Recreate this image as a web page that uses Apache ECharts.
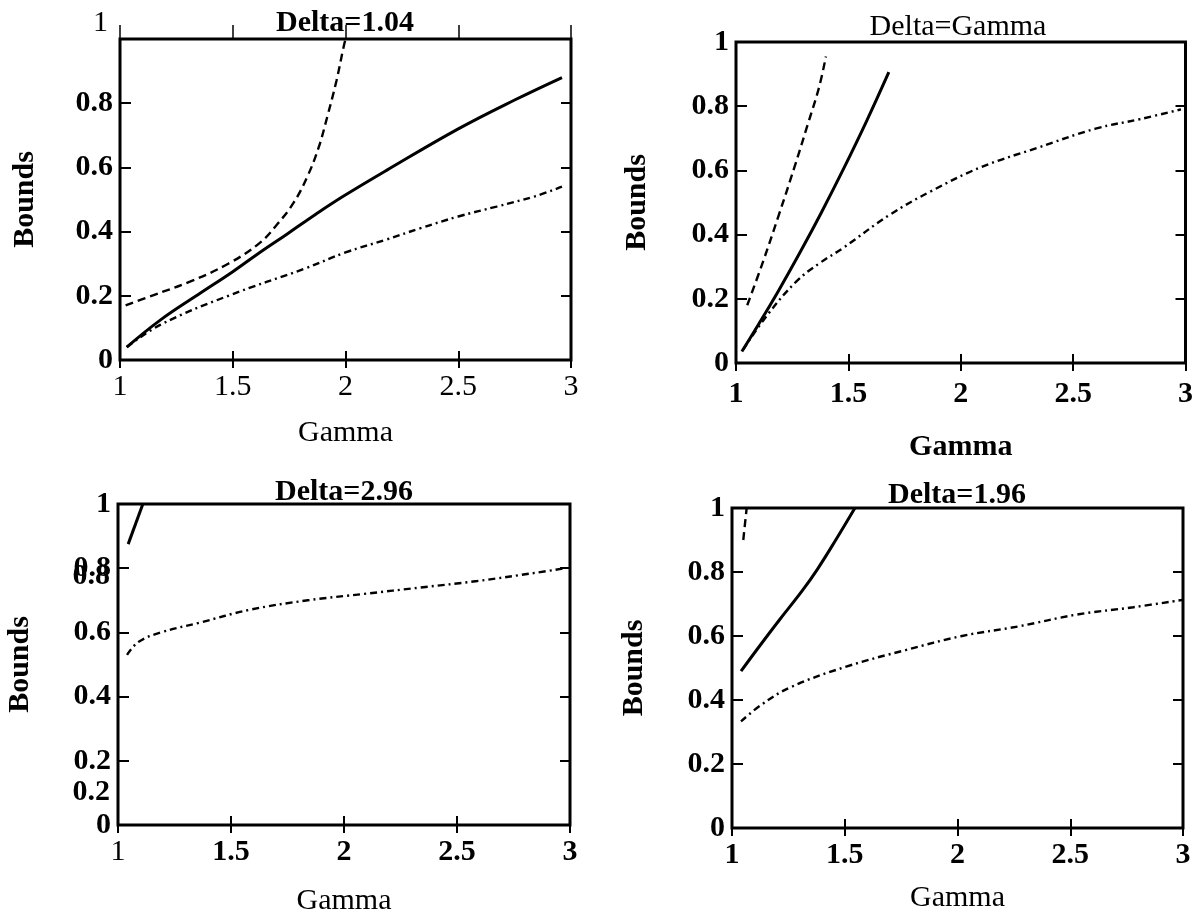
<!DOCTYPE html>
<html>
<head>
<meta charset="utf-8">
<script src="https://cdn.jsdelivr.net/npm/echarts@6/dist/echarts.min.js"></script>
<style>
html, body { margin: 0; padding: 0; background: #fff; }
#chart { width: 1196px; height: 917px; }
</style>
</head>
<body>
<div id="chart"></div>
<script>
// axis ticks shared by all four panels
const gammaTicks = [1, 1.5, 2, 2.5, 3];
const boundTicks = [0, 0.2, 0.4, 0.6, 0.8, 1];
const panelTitles = ['Delta=1.04', 'Delta=Gamma', 'Delta=2.96', 'Delta=1.96'];

// [gamma, bound]
const p1Dashed = [[1.025, 0.17], [1.14, 0.2], [1.31, 0.244], [1.48, 0.3], [1.62, 0.365], [1.7, 0.425], [1.77, 0.49], [1.83, 0.57], [1.88, 0.66], [1.92, 0.76], [1.96, 0.87], [1.99, 0.97], [2.0, 1.0]];
const p1Solid = [[1.03, 0.04], [1.18, 0.125], [1.36, 0.21], [1.5, 0.275], [1.62, 0.335], [1.74, 0.392], [1.87, 0.455], [1.99, 0.51], [2.18, 0.59], [2.5, 0.72], [2.75, 0.81], [2.96, 0.88]];
const p1DashDot = [[1.03, 0.04], [1.18, 0.11], [1.48, 0.2], [1.82, 0.285], [2.0, 0.335], [2.18, 0.375], [2.33, 0.41], [2.5, 0.447], [2.67, 0.478], [2.84, 0.51], [2.96, 0.54]];

const p2Dashed = [[1.05, 0.18], [1.12, 0.315], [1.19, 0.46], [1.26, 0.61], [1.32, 0.745], [1.37, 0.86], [1.4, 0.955]];
const p2Solid = [[1.026, 0.036], [1.1, 0.12], [1.19, 0.226], [1.29, 0.351], [1.38, 0.469], [1.48, 0.607], [1.58, 0.752], [1.68, 0.906]];
const p2DashDot = [[1.03, 0.04], [1.14, 0.15], [1.27, 0.255], [1.37, 0.31], [1.48, 0.36], [1.68, 0.46], [1.87, 0.536], [2.09, 0.61], [2.34, 0.67], [2.6, 0.73], [2.8, 0.76], [2.98, 0.79]];

const p3Solid = [[1.045, 0.875], [1.11, 1.0]];
const p3DashDot = [[1.04, 0.53], [1.09, 0.57], [1.19, 0.6], [1.36, 0.63], [1.58, 0.67], [1.84, 0.7], [2.09, 0.72], [2.34, 0.74], [2.59, 0.76], [2.85, 0.786], [2.98, 0.8]];

const p4Dashed = [[1.05, 0.9], [1.065, 1.0]];
const p4Solid = [[1.04, 0.49], [1.11, 0.557], [1.21, 0.65], [1.31, 0.74], [1.38, 0.81], [1.46, 0.9], [1.545, 1.0]];
const p4DashDot = [[1.04, 0.333], [1.13, 0.385], [1.26, 0.44], [1.51, 0.505], [1.77, 0.556], [2.02, 0.6], [2.27, 0.63], [2.53, 0.667], [2.78, 0.69], [3.0, 0.713]];

const FONT = '"Liberation Serif", "DejaVu Serif", serif';
const FS = 30;

const LINE_STYLES = {
  solid: { type: 'solid', width: 3 },
  dashed: { type: [8, 5], width: 2.4 },
  dashDot: { type: [7, 4, 2, 4], width: 2.4 },
};

const TICK = { color: '#000', width: 2 };

// layout of each panel (pixels)
const panels = [
  {
    grid: { left: 120, top: 39, width: 451, height: 321 },
    title: { x: 345, y: 23, bold: true },
    xLabelBold: false, xLabelMargin: 12, xNameBold: false, xNameGap: 58,
    yNameGap: 80,
    topTickOut: true, hideTopY: true,
    lines: [[p1Dashed, 'dashed'], [p1Solid, 'solid'], [p1DashDot, 'dashDot']],
  },
  {
    grid: { left: 736, top: 42, width: 450, height: 321 },
    title: { x: 958, y: 27, bold: false },
    xLabelBold: true, xLabelMargin: 16, xNameBold: true, xNameGap: 69,
    yNameGap: 84,
    lines: [[p2Dashed, 'dashed'], [p2Solid, 'solid'], [p2DashDot, 'dashDot']],
  },
  {
    grid: { left: 118, top: 504, width: 452, height: 321 },
    title: { x: 344, y: 492, bold: true },
    xLabelBold: true, xLabelMargin: 12, xNameBold: false, xNameGap: 61, lightFirstX: true,
    yNameGap: 83,
    lines: [[p3Solid, 'solid'], [p3DashDot, 'dashDot']],
  },
  {
    grid: { left: 732, top: 508, width: 451, height: 320 },
    title: { x: 957, y: 495, bold: true },
    xLabelBold: true, xLabelMargin: 12, xNameBold: false, xNameGap: 55,
    yNameGap: 83,
    lines: [[p4Dashed, 'dashed'], [p4Solid, 'solid'], [p4DashDot, 'dashDot']],
  },
];

const xMin = gammaTicks[0];
const xMax = gammaTicks[gammaTicks.length - 1];
const xStep = gammaTicks[1] - gammaTicks[0];
const yMin = boundTicks[0];
const yMax = boundTicks[boundTicks.length - 1];
const yStep = boundTicks[1] - boundTicks[0];

const textStyle = (bold, size = FS) => ({
  color: '#000',
  fontFamily: FONT,
  fontSize: size,
  fontWeight: bold ? 'bold' : 'normal',
});

const option = {
  animation: false,
  backgroundColor: '#fff',
  grid: [],
  xAxis: [],
  yAxis: [],
  series: [],
  graphic: [],
};

// tick-only axis used for the top and right sides of the frame
const tickAxis = (i, position, min, max, interval, tick) => ({
  type: 'value',
  gridIndex: i,
  min: min,
  max: max,
  interval: interval,
  position: position,
  axisLine: { show: false },
  axisTick: Object.assign({ show: true, lineStyle: TICK }, tick),
  axisLabel: { show: false },
  splitLine: { show: false },
});

panels.forEach((p, i) => {
  option.grid.push(Object.assign({
    show: true,
    borderColor: '#000',
    borderWidth: 3,
    backgroundColor: 'transparent',
  }, p.grid));

  const xIndex = option.xAxis.length;
  option.xAxis.push({
    type: 'value',
    gridIndex: i,
    min: xMin,
    max: xMax,
    interval: xStep,
    position: 'bottom',
    name: 'Gamma',
    nameLocation: 'middle',
    nameGap: p.xNameGap,
    nameTextStyle: textStyle(p.xNameBold),
    axisLine: { show: false },
    axisTick: { show: true, inside: true, length: 9, lineStyle: TICK },
    splitLine: { show: false },
    axisLabel: Object.assign(textStyle(p.xLabelBold), {
      margin: p.xLabelMargin,
      formatter: (v) => (p.lightFirstX && v === xMin ? '{r|' + v + '}' : String(v)),
      rich: { r: textStyle(false) },
    }),
  });
  option.xAxis.push(tickAxis(i, 'top', xMin, xMax, xStep, { inside: true, length: 8 }));
  if (p.topTickOut) {
    // the first panel's top ticks poke out through the frame
    option.xAxis.push(tickAxis(i, 'top', xMin, xMax, xStep, { inside: false, length: 14, lineStyle: { color: '#000', width: 1.5 } }));
  }

  const yIndex = option.yAxis.length;
  option.yAxis.push({
    type: 'value',
    gridIndex: i,
    min: yMin,
    max: yMax,
    interval: yStep,
    position: 'left',
    name: 'Bounds',
    nameLocation: 'middle',
    nameRotate: 90,
    nameGap: p.yNameGap,
    nameTextStyle: textStyle(true),
    axisLine: { show: false },
    axisTick: { show: true, inside: true, length: 11, lineStyle: TICK },
    splitLine: { show: false },
    axisLabel: Object.assign(textStyle(true), {
      margin: 7,
      formatter: (v) => (p.hideTopY && v === yMax ? '' : String(v)),
    }),
  });
  option.yAxis.push(tickAxis(i, 'right', yMin, yMax, yStep, { inside: true, length: 10 }));

  p.lines.forEach(([data, kind]) => {
    option.series.push({
      type: 'line',
      xAxisIndex: xIndex,
      yAxisIndex: yIndex,
      data: data,
      showSymbol: false,
      smooth: 0.4,
      clip: true,
      silent: true,
      lineStyle: Object.assign({ color: '#000', cap: 'butt' }, LINE_STYLES[kind]),
    });
  });

  option.graphic.push({
    type: 'text',
    x: p.title.x,
    y: p.title.y,
    style: Object.assign({
      text: panelTitles[i],
      fill: '#000',
      align: 'center',
      verticalAlign: 'middle',
      textAlign: 'center',
      textVerticalAlign: 'middle',
    }, textStyle(p.title.bold)),
  });
});

// stray labels in the scan
const strayText = (text, x, y, bold) => ({
  type: 'text',
  x: x,
  y: y,
  style: Object.assign({
    text: text,
    fill: '#000',
    align: 'right',
    verticalAlign: 'middle',
    textAlign: 'right',
    textVerticalAlign: 'middle',
  }, textStyle(bold)),
});
option.graphic.push(strayText('1', 108, 23, false));
option.graphic.push(strayText('0.8', 110, 576, true));
option.graphic.push(strayText('0.2', 110, 792, true));

const myChart = echarts.init(document.getElementById('chart'), null, { renderer: 'canvas' });
myChart.setOption(option);
</script>
</body>
</html>
